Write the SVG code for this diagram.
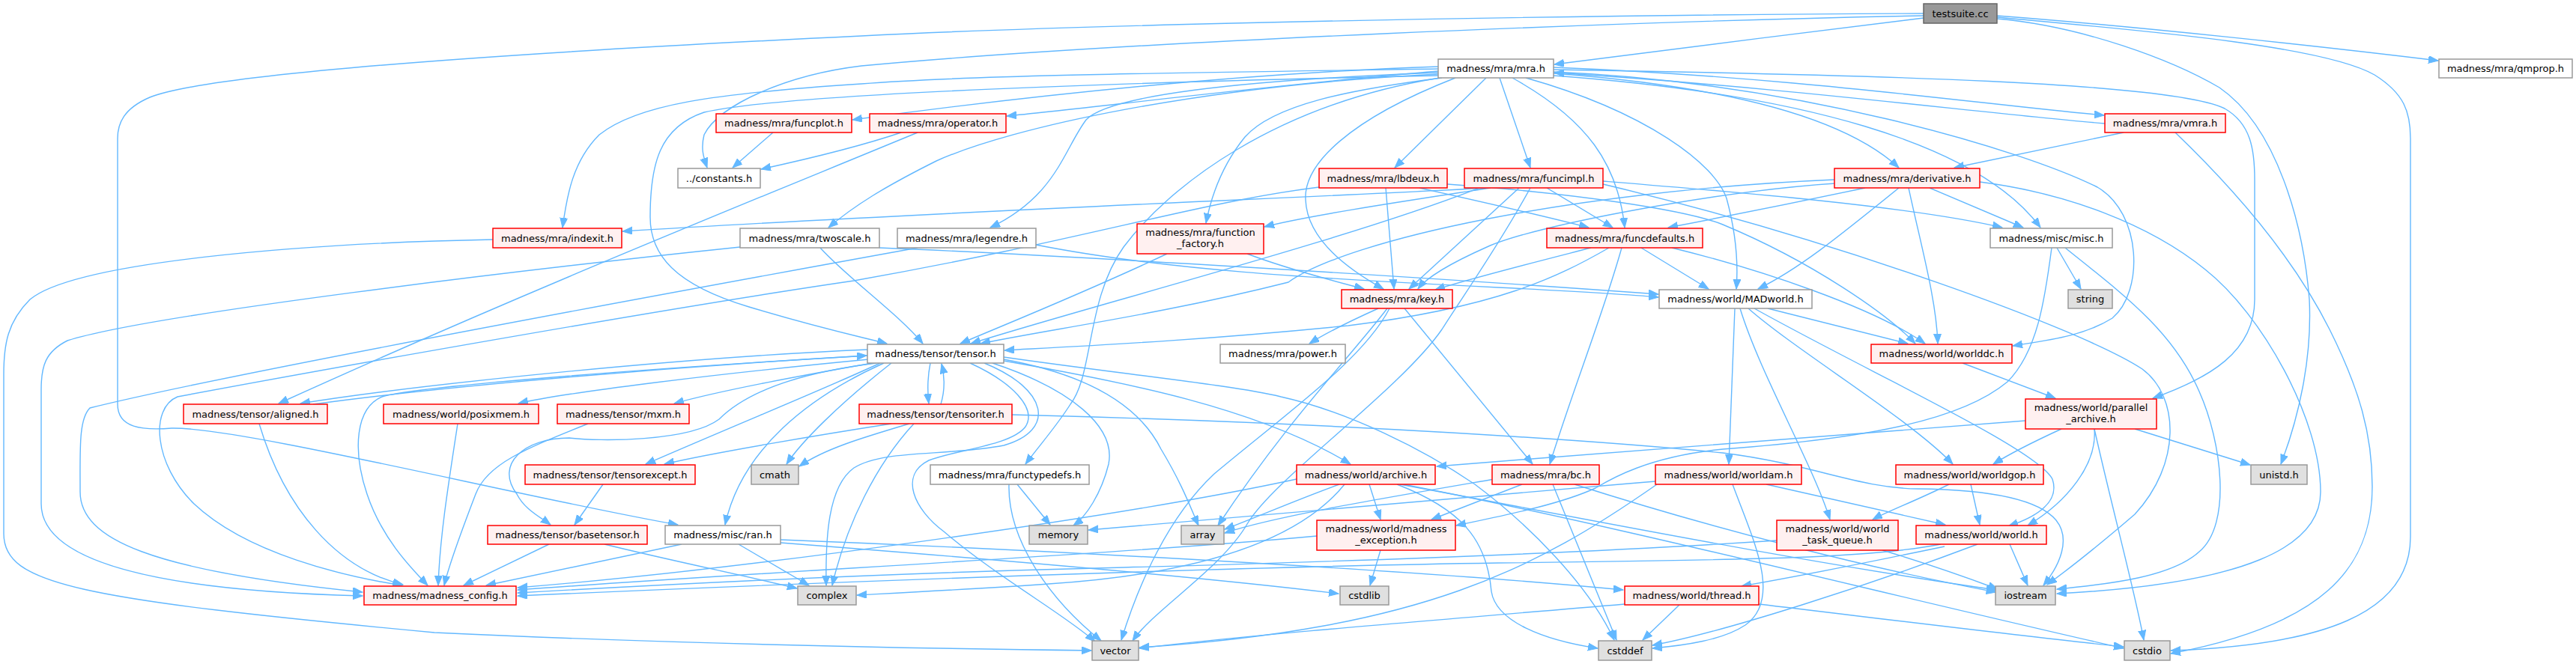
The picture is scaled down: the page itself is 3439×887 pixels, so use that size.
<svg xmlns="http://www.w3.org/2000/svg" width="3439" height="887" viewBox="0 0 3439 887">
<style>
.e{fill:none;stroke:#63b8ff;stroke-width:1.4}
.r{fill:#fff0f0;stroke:#ff0000;stroke-width:1.5}
.w{fill:#ffffff;stroke:#999999;stroke-width:1.5}
.g{fill:#e0e0e0;stroke:#999999;stroke-width:1.5}
.root{fill:#999999;stroke:#666666;stroke-width:1.5}
text{font-family:"DejaVu Sans","Liberation Sans",sans-serif;font-size:13px;fill:#000000;text-anchor:middle}
</style>
<defs>
<marker id="a" markerUnits="userSpaceOnUse" markerWidth="14" markerHeight="11" refX="13" refY="5" orient="auto"><path d="M0,0 L13,5 L0,10 z" fill="#63b8ff" stroke="#63b8ff" stroke-width="1"/></marker>
</defs>
<rect width="3439" height="887" fill="#ffffff"/>
<g id="edges" class="e" marker-end="url(#a)">
<path d="M2568,24 C2420,42 2200,70 2075,86"/>
<path d="M2666,21 C2850,35 3100,62 3255,81"/>
<path d="M2568,21 C2200,28 1500,55 1150,88 C1050,100 960,140 940,180 C935,200 940,212 944,224"/>
<path d="M2568,18 C2200,19 1500,30 1150,48 C900,60 300,90 200,130 C165,145 157,165 157,185 L157,540 C157,572 190,575 229,572 C320,570 700,665 905,701"/>
<path d="M2666,25 C2780,35 2900,80 2963,117 C3040,170 3075,300 3083,400 C3087,480 3068,560 3045,620"/>
<path d="M2666,23 C2850,40 3100,60 3170,100 C3210,125 3218,150 3218,185 L3218,717 C3218,820 3100,862 2898,869"/>
<path d="M1920,89 C1600,100 1300,138 1138,160"/>
<path d="M1920,95 C1700,113 1450,145 1344,155"/>
<path d="M2074,90 C2400,103 2650,140 2809,154"/>
<path d="M2810,165 C2650,152 2400,118 2075,97"/>
<path d="M1984,104 L1862,224"/>
<path d="M2002,104 L2043,224"/>
<path d="M2074,98 C2300,115 2460,155 2535,224"/>
<path d="M2074,101 C2400,125 2640,190 2724,304"/>
<path d="M2037,104 C2200,150 2290,220 2305,265 C2320,320 2320,360 2318,386"/>
<path d="M2019,104 C2120,160 2160,220 2169,304"/>
<path d="M1943,104 C1800,160 1740,220 1743,267 C1745,320 1800,360 1847,386"/>
<path d="M1920,92 C1600,97 1300,100 1150,112 C950,125 850,140 800,180 C765,215 757,260 751,304"/>
<path d="M1920,99 C1600,115 1350,170 1250,215 C1180,250 1140,275 1106,304"/>
<path d="M1920,97 C1650,107 1480,128 1450,160 C1420,200 1410,262 1322,304"/>
<path d="M1925,104 C1800,120 1700,140 1662,183 C1632,220 1617,262 1610,298"/>
<path d="M1922,104 C1700,140 1560,250 1500,330 C1450,400 1460,500 1429,540 C1410,570 1390,592 1369,620"/>
<path d="M1920,101 C1500,110 1050,125 940,150 C880,170 868,220 868,290 C868,340 900,380 1000,410 C1100,440 1150,450 1184,459"/>
<path d="M2074,93 C2500,100 2900,110 2970,145 C3005,165 3010,200 3010,240 L3010,400 C3010,470 2950,505 2874,532"/>
<path d="M2074,96 C2400,110 2700,200 2800,250 C2860,285 2862,390 2820,425 C2780,450 2730,455 2687,462"/>
<path d="M2835,177 L2609,224"/>
<path d="M2904,177 C2980,250 3060,340 3110,440 C3150,520 3167,580 3167,650 C3167,760 3100,835 2898,873"/>
<path d="M1850,251 L1861,386"/>
<path d="M1895,251 C1980,270 2060,288 2121,304"/>
<path d="M1932,246 C2100,258 2250,280 2300,300 C2420,350 2520,420 2557,459"/>
<path d="M1761,250 C1600,270 1450,320 1140,375 C900,410 450,490 237,530 C200,545 205,620 259,673 C330,740 460,770 537,782"/>
<path d="M2028,251 L1881,386"/>
<path d="M2065,251 L2153,304"/>
<path d="M1984,251 C1800,262 1300,280 831,309"/>
<path d="M1990,251 C1900,265 1750,287 1688,303"/>
<path d="M2140,242 C2300,255 2550,275 2673,304"/>
<path d="M2140,246 C2450,320 2780,440 2860,493 C2910,530 2912,620 2850,687 C2800,730 2762,760 2733,781"/>
<path d="M1975,251 C1800,320 1450,410 1296,459"/>
<path d="M2043,251 C2000,330 1950,400 1925,440 C1870,520 1700,640 1665,700 C1630,760 1540,815 1512,856"/>
<path d="M1852,412 C1800,480 1720,560 1626,702"/>
<path d="M2124,331 C2050,350 1970,370 1916,387"/>
<path d="M2148,331 C2080,370 2000,410 1800,435 C1600,455 1450,462 1341,468"/>
<path d="M2165,331 C2140,420 2100,520 2069,620"/>
<path d="M2191,331 L2281,386"/>
<path d="M2232,331 C2350,360 2500,410 2570,459"/>
<path d="M2490,251 C2400,270 2300,290 2227,304"/>
<path d="M2576,251 L2701,304"/>
<path d="M2535,251 C2450,320 2400,360 2347,386"/>
<path d="M2548,251 C2565,330 2585,400 2587,459"/>
<path d="M2450,245 C2300,255 2050,300 1985,330 C1940,350 1905,370 1893,386"/>
<path d="M2449,240 C2100,255 1800,320 1720,377 C1550,420 1400,440 1309,459"/>
<path d="M2643,243 C2760,258 2870,300 2944,360 C3020,420 3098,560 3098,657 C3098,730 3000,780 2746,793"/>
<path d="M2746,331 L2778,386"/>
<path d="M2757,331 C2830,390 2900,440 2936,523 C2966,590 2980,700 2936,737 C2900,770 2820,780 2746,787"/>
<path d="M2739,331 C2730,400 2720,470 2680,510 C2620,560 2500,585 2300,600 C2200,610 2150,640 2130,652 C2080,675 2000,690 1944,702"/>
<path d="M1840,412 C1800,430 1770,445 1748,459"/>
<path d="M1875,412 L2046,620"/>
<path d="M1855,412 C1820,480 1720,550 1621,633 C1560,690 1520,780 1497,855"/>
<path d="M2316,412 L2308,620"/>
<path d="M2323,412 C2350,500 2420,620 2443,694"/>
<path d="M2334,412 C2400,470 2550,560 2607,620"/>
<path d="M2342,412 C2500,500 2720,600 2740,640 C2750,670 2720,690 2681,703"/>
<path d="M2360,412 L2547,459"/>
<path d="M2620,485 L2744,532"/>
<path d="M2752,573 C2715,590 2685,605 2661,620"/>
<path d="M2796,573 C2800,620 2760,670 2707,702"/>
<path d="M2796,573 C2820,680 2850,790 2862,855"/>
<path d="M2850,573 L3004,621"/>
<path d="M2704,562 C2500,580 2200,600 1918,623"/>
<path d="M2602,647 C2560,668 2520,683 2500,694"/>
<path d="M2631,647 L2643,701"/>
<path d="M2358,647 C2450,668 2530,686 2597,701"/>
<path d="M2210,643 C2000,660 1800,680 1453,708"/>
<path d="M2313,647 C2340,720 2380,800 2330,835 C2300,855 2250,862 2206,866"/>
<path d="M2212,647 C2050,760 1900,840 1521,865"/>
<path d="M2513,735 C2580,755 2630,773 2667,787"/>
<path d="M2372,722 C2100,740 1800,750 1500,758 C1200,765 900,780 691,792"/>
<path d="M2591,727 C2500,745 2350,748 2000,752 C1600,758 1000,782 691,796"/>
<path d="M1758,716 C1500,740 1000,765 691,788"/>
<path d="M1731,640 C1500,690 1000,760 691,785"/>
<path d="M1828,647 L1843,694"/>
<path d="M1865,647 C1950,680 1985,720 1991,790 C1997,830 2060,855 2133,866"/>
<path d="M1788,647 C1730,668 1680,690 1635,707"/>
<path d="M1795,647 C1720,740 1550,770 1400,780 C1300,787 1200,792 1144,795"/>
<path d="M1869,647 C2100,690 2400,750 2665,788"/>
<path d="M1873,647 C2150,700 2500,790 2835,866"/>
<path d="M2032,647 L1911,694"/>
<path d="M2073,647 L2158,855"/>
<path d="M1995,640 C1850,665 1700,690 1635,712"/>
<path d="M2102,647 C2300,710 2500,760 2665,791"/>
<path d="M2683,727 L2707,782"/>
<path d="M2640,727 C2500,780 2300,845 2206,862"/>
<path d="M2596,730 C2500,750 2400,770 2325,783"/>
<path d="M2169,807 C1900,830 1700,845 1521,866"/>
<path d="M2242,808 L2193,855"/>
<path d="M2348,807 C2500,825 2700,850 2835,864"/>
<path d="M1843,735 L1829,782"/>
<path d="M1042,721 C1400,735 1900,762 2167,788"/>
<path d="M1042,725 C1300,745 1600,770 1787,793"/>
<path d="M910,727 L649,782"/>
<path d="M986,727 L1080,782"/>
<path d="M733,727 L619,782"/>
<path d="M807,727 C900,750 1000,770 1064,786"/>
<path d="M805,647 L767,701"/>
<path d="M611,566 C598,650 587,720 585,782"/>
<path d="M785,566 C700,600 650,620 635,660 C612,720 598,760 593,782"/>
<path d="M346,566 C380,680 450,760 538,781"/>
<path d="M418,540 C600,515 900,490 1157,475"/>
<path d="M1158,467 C900,478 550,515 401,539"/>
<path d="M1160,475 C900,490 560,515 510,530 C475,545 470,600 490,660 C510,720 550,760 571,782"/>
<path d="M1160,480 C950,500 750,525 692,539"/>
<path d="M1165,485 C1050,505 950,525 900,539"/>
<path d="M1175,485 C1100,520 1000,560 862,620"/>
<path d="M1170,485 C1050,500 990,530 960,560 C920,590 800,590 760,585 C700,585 660,620 690,660 C700,680 720,690 735,701"/>
<path d="M1190,485 C1120,540 1070,590 1050,620"/>
<path d="M1180,485 C1080,530 990,600 968,701"/>
<path d="M1314,485 C1400,520 1410,575 1340,595 C1260,610 1180,600 1140,625 C1105,650 1102,720 1103,782"/>
<path d="M1325,485 C1430,520 1490,570 1480,620 C1470,660 1450,690 1433,702"/>
<path d="M1340,480 C1450,500 1520,540 1550,600 C1580,650 1590,680 1600,702"/>
<path d="M1295,485 C1350,510 1385,545 1369,570 C1350,595 1280,600 1240,615 C1200,635 1220,680 1260,710 C1330,770 1420,820 1462,857"/>
<path d="M1340,477 C1500,500 1650,515 1710,530 C1800,550 1900,600 1969,647 C2040,700 2120,780 2155,855"/>
<path d="M1340,482 C1500,510 1680,545 1803,620"/>
<path d="M1242,485 C1238,505 1238,522 1240,539"/>
<path d="M1256,540 C1262,520 1261,502 1257,486"/>
<path d="M1190,566 C1100,580 950,605 887,620"/>
<path d="M1214,566 C1150,585 1100,600 1067,623"/>
<path d="M1220,566 C1170,620 1130,700 1111,782"/>
<path d="M1351,554 C1800,565 2150,590 2300,605 C2420,620 2480,652 2560,653 C2650,654 2720,665 2745,695 C2765,720 2750,755 2728,782"/>
<path d="M1358,647 L1402,701"/>
<path d="M1347,647 C1345,720 1400,800 1470,856"/>
<path d="M1558,339 C1450,390 1350,430 1282,459"/>
<path d="M1665,339 C1720,360 1780,375 1821,386"/>
<path d="M1095,331 C1130,370 1200,420 1232,459"/>
<path d="M1174,331 C1400,340 1900,370 2214,393"/>
<path d="M1383,327 C1550,360 1750,372 2000,384 C2100,389 2170,393 2214,397"/>
<path d="M988,330 C700,360 200,420 90,455 C60,470 55,490 55,520 L55,673 C55,760 250,790 484,796"/>
<path d="M1225,331 C900,390 300,500 120,545 C105,560 107,600 107,657 C107,720 200,762 484,791"/>
<path d="M658,320 C400,325 100,350 40,400 C10,430 5,460 5,500 L5,713 C5,780 100,800 580,845 C900,860 1200,866 1457,869"/>
<path d="M1225,177 C1000,270 700,390 372,539"/>
<path d="M1203,177 C1150,195 1080,212 1016,226"/>
<path d="M1032,177 L978,224"/>
</g>
<g id="n-testsuite"><rect class="root" x="2568" y="5" width="98" height="26"/><text x="2617" y="22.5">testsuite.cc</text></g>
<g id="n-mra"><rect class="w" x="1920" y="79" width="154" height="25"/><text x="1997" y="96">madness/mra/mra.h</text></g>
<g id="n-qmprop"><rect class="w" x="3256" y="79" width="178" height="25"/><text x="3345" y="96">madness/mra/qmprop.h</text></g>
<g id="n-funcplot"><rect class="r" x="956" y="152" width="181" height="25"/><text x="1046.5" y="169">madness/mra/funcplot.h</text></g>
<g id="n-operator"><rect class="r" x="1161" y="152" width="182" height="25"/><text x="1252" y="169">madness/mra/operator.h</text></g>
<g id="n-vmra"><rect class="r" x="2810" y="152" width="161" height="25"/><text x="2890.5" y="169">madness/mra/vmra.h</text></g>
<g id="n-constants"><rect class="w" x="905" y="225" width="110" height="26"/><text x="960" y="242.5">../constants.h</text></g>
<g id="n-lbdeux"><rect class="r" x="1761" y="225" width="171" height="26"/><text x="1846.5" y="242.5">madness/mra/lbdeux.h</text></g>
<g id="n-funcimpl"><rect class="r" x="1955" y="225" width="185" height="26"/><text x="2047.5" y="242.5">madness/mra/funcimpl.h</text></g>
<g id="n-derivative"><rect class="r" x="2449" y="225" width="194" height="26"/><text x="2546" y="242.5">madness/mra/derivative.h</text></g>
<g id="n-indexit"><rect class="r" x="658" y="305" width="172" height="26"/><text x="744" y="322.5">madness/mra/indexit.h</text></g>
<g id="n-twoscale"><rect class="w" x="988" y="305" width="186" height="26"/><text x="1081" y="322.5">madness/mra/twoscale.h</text></g>
<g id="n-legendre"><rect class="w" x="1198" y="305" width="185" height="26"/><text x="1290.5" y="322.5">madness/mra/legendre.h</text></g>
<g id="n-function-factory"><rect class="r" x="1518" y="299" width="169" height="40"/><text x="1602.5" y="315">madness/mra/function</text><text x="1602.5" y="330">_factory.h</text></g>
<g id="n-funcdefaults"><rect class="r" x="2065" y="305" width="208" height="26"/><text x="2169" y="322.5">madness/mra/funcdefaults.h</text></g>
<g id="n-misc"><rect class="w" x="2657" y="305" width="163" height="26"/><text x="2738.5" y="322.5">madness/misc/misc.h</text></g>
<g id="n-key"><rect class="r" x="1791" y="387" width="148" height="25"/><text x="1865" y="404">madness/mra/key.h</text></g>
<g id="n-madworld"><rect class="w" x="2215" y="387" width="204" height="25"/><text x="2317" y="404">madness/world/MADworld.h</text></g>
<g id="n-string"><rect class="g" x="2761" y="387" width="59" height="25"/><text x="2790.5" y="404">string</text></g>
<g id="n-tensor"><rect class="w" x="1158" y="460" width="182" height="25"/><text x="1249" y="477">madness/tensor/tensor.h</text></g>
<g id="n-power"><rect class="w" x="1629" y="460" width="167" height="25"/><text x="1712.5" y="477">madness/mra/power.h</text></g>
<g id="n-worlddc"><rect class="r" x="2498" y="460" width="188" height="25"/><text x="2592" y="477">madness/world/worlddc.h</text></g>
<g id="n-parallel-archive"><rect class="r" x="2704" y="533" width="175" height="40"/><text x="2791.5" y="549">madness/world/parallel</text><text x="2791.5" y="564">_archive.h</text></g>
<g id="n-aligned"><rect class="r" x="245" y="540" width="192" height="26"/><text x="341" y="557.5">madness/tensor/aligned.h</text></g>
<g id="n-posixmem"><rect class="r" x="512" y="540" width="207" height="26"/><text x="615.5" y="557.5">madness/world/posixmem.h</text></g>
<g id="n-mxm"><rect class="r" x="744" y="540" width="176" height="26"/><text x="832" y="557.5">madness/tensor/mxm.h</text></g>
<g id="n-tensoriter"><rect class="r" x="1147" y="540" width="204" height="26"/><text x="1249" y="557.5">madness/tensor/tensoriter.h</text></g>
<g id="n-tensorexcept"><rect class="r" x="701" y="621" width="227" height="26"/><text x="814.5" y="638.5">madness/tensor/tensorexcept.h</text></g>
<g id="n-cmath"><rect class="g" x="1003" y="621" width="63" height="26"/><text x="1034.5" y="638.5">cmath</text></g>
<g id="n-functypedefs"><rect class="w" x="1242" y="621" width="212" height="26"/><text x="1348" y="638.5">madness/mra/functypedefs.h</text></g>
<g id="n-archive"><rect class="r" x="1731" y="621" width="185" height="26"/><text x="1823.5" y="638.5">madness/world/archive.h</text></g>
<g id="n-bc"><rect class="r" x="1992" y="621" width="143" height="26"/><text x="2063.5" y="638.5">madness/mra/bc.h</text></g>
<g id="n-worldam"><rect class="r" x="2210" y="621" width="195" height="26"/><text x="2307.5" y="638.5">madness/world/worldam.h</text></g>
<g id="n-worldgop"><rect class="r" x="2531" y="621" width="197" height="26"/><text x="2629.5" y="638.5">madness/world/worldgop.h</text></g>
<g id="n-unistd"><rect class="g" x="3005" y="621" width="75" height="26"/><text x="3042.5" y="638.5">unistd.h</text></g>
<g id="n-basetensor"><rect class="r" x="651" y="702" width="213" height="25"/><text x="757.5" y="719">madness/tensor/basetensor.h</text></g>
<g id="n-ran"><rect class="w" x="888" y="702" width="154" height="25"/><text x="965" y="719">madness/misc/ran.h</text></g>
<g id="n-memory"><rect class="g" x="1374" y="702" width="78" height="25"/><text x="1413" y="719">memory</text></g>
<g id="n-array"><rect class="g" x="1577" y="702" width="57" height="25"/><text x="1605.5" y="719">array</text></g>
<g id="n-madness-exception"><rect class="r" x="1758" y="695" width="185" height="40"/><text x="1850.5" y="711">madness/world/madness</text><text x="1850.5" y="726">_exception.h</text></g>
<g id="n-world-task-queue"><rect class="r" x="2372" y="695" width="162" height="40"/><text x="2453" y="711">madness/world/world</text><text x="2453" y="726">_task_queue.h</text></g>
<g id="n-world"><rect class="r" x="2558" y="702" width="174" height="25"/><text x="2645" y="719">madness/world/world.h</text></g>
<g id="n-madness-config"><rect class="r" x="486" y="783" width="203" height="25"/><text x="587.5" y="800">madness/madness_config.h</text></g>
<g id="n-complex"><rect class="g" x="1065" y="783" width="78" height="25"/><text x="1104" y="800">complex</text></g>
<g id="n-cstdlib"><rect class="g" x="1789" y="783" width="65" height="25"/><text x="1821.5" y="800">cstdlib</text></g>
<g id="n-thread"><rect class="r" x="2169" y="783" width="179" height="25"/><text x="2258.5" y="800">madness/world/thread.h</text></g>
<g id="n-iostream"><rect class="g" x="2664" y="783" width="80" height="25"/><text x="2704" y="800">iostream</text></g>
<g id="n-vector"><rect class="g" x="1458" y="856" width="62" height="26"/><text x="1489" y="873.5">vector</text></g>
<g id="n-cstddef"><rect class="g" x="2134" y="856" width="71" height="26"/><text x="2169.5" y="873.5">cstddef</text></g>
<g id="n-cstdio"><rect class="g" x="2836" y="856" width="61" height="26"/><text x="2866.5" y="873.5">cstdio</text></g>
</svg>
